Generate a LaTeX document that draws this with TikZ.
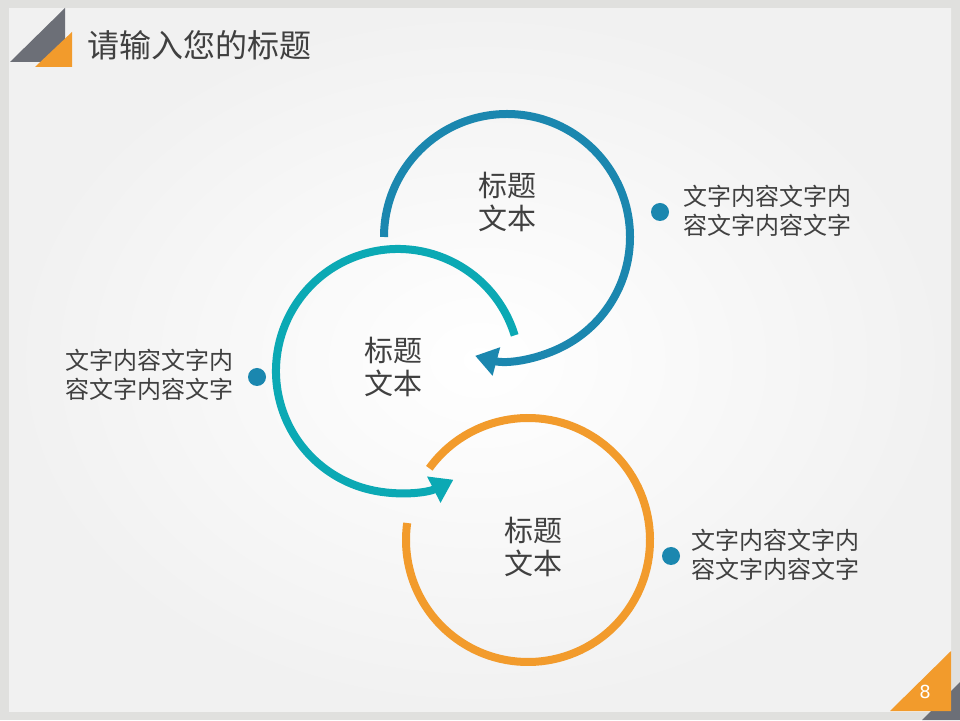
\documentclass[tikz,border=0pt]{standalone}
\usepackage{fontspec}
\newfontfamily\cjk{Noto Sans CJK SC}
\newfontfamily\digitfont{DejaVu Sans}
\usetikzlibrary{arrows.meta}
\definecolor{bgray}{HTML}{E0E0DE}
\definecolor{panelout}{HTML}{F1F1F1}
\definecolor{cblue}{HTML}{1B87AF}
\definecolor{cteal}{HTML}{0BA9B4}
\definecolor{corange}{HTML}{F29B2C}
\definecolor{dgray}{HTML}{6C6F77}
\definecolor{txt}{HTML}{404040}
\tikzset{
  ring/.style={line width=8pt},
  ringarrow/.style={ring, -{Triangle[length=22pt,width=28pt]}},
  titletext/.style={inner sep=0pt, text=txt, align=center, font={\cjk\fontsize{29}{33}\selectfont}},
  bullettext/.style={inner sep=0pt, text=txt, align=left, anchor=west, font={\cjk\fontsize{24}{29}\selectfont}},
  dot/.style={circle, fill=cblue, minimum size=18pt, inner sep=0pt},
}
\begin{document}
\begin{tikzpicture}[x=1pt,y=1pt]
\useasboundingbox (0,0) rectangle (960,720);
\fill[bgray] (0,0) rectangle (960,720);
\shade[inner color=white, outer color=panelout] (9,9) rectangle (951,711);
% corner decorations
\fill[dgray] (10,658) -- (65,712) -- (65,658) -- cycle;
\fill[corange] (35,653) -- (72,688) -- (72,653) -- cycle;
\fill[dgray] (922,0) -- (960,38) -- (960,0) -- cycle;
\fill[corange] (890,9) -- (951,69) -- (951,9) -- cycle;
\node[inner sep=0pt, text=white, font={\digitfont\fontsize{18}{20}\selectfont}] (pnum) at (925,28) {8};
% title
\node[inner sep=0pt, anchor=west, text=txt, font={\cjk\fontsize{32}{36}\selectfont}] (title) at (87,675) {请输入您的标题};
% centres
\coordinate (cb) at (507,483);
\coordinate (ct) at (398,349);
\coordinate (co) at (528,180);
% rings
\draw[cblue, ringarrow] (cb) ++(180:123) arc[start angle=180, end angle=-105, radius=123];
\draw[cteal, ringarrow] (ct) ++(17:122) arc[start angle=17, end angle=297, radius=122];
\draw[corange, ring] (co) ++(144:122) arc[start angle=144, end angle=-188, radius=122];
% ring titles
\node[titletext] (tb) at (507,518) {标题\\文本};
\node[titletext] (tt) at (393,353) {标题\\文本};
\node[titletext] (to) at (533,173) {标题\\文本};
% bullets
\node[dot] (db) at (660,508) {};
\node[dot] (dt) at (257,343) {};
\node[dot] (do) at (671,164) {};
\node[bullettext] (bb) at (683,509.5) {文字内容文字内\\容文字内容文字};
\node[bullettext] (bt) at (65,345) {文字内容文字内\\容文字内容文字};
\node[bullettext] (bo) at (691,165.5) {文字内容文字内\\容文字内容文字};
\end{tikzpicture}
\end{document}
